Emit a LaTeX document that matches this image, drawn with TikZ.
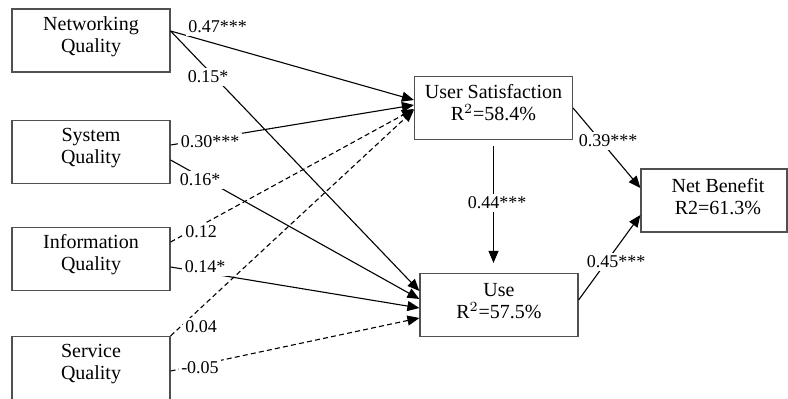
\documentclass[tikz,border=0pt]{standalone}
\usepackage{fontspec}
\setmainfont{Liberation Serif}
\usetikzlibrary{arrows.meta, positioning, calc}
\definecolor{BoxGray}{HTML}{505050}
\tikzset{
  var box/.style={rectangle, draw=BoxGray, line width=0.6pt,
                  minimum width=79pt, minimum height=31.5pt, inner sep=0pt},
  box text/.style={font=\fontsize{10}{11}\selectfont, align=center,
                   yshift=2pt},
  coef/.style={font=\fontsize{9}{10}\selectfont, fill=white, inner sep=1.2pt},
  path edge/.style={-{Triangle[length=6pt, width=5pt]}, line width=0.55pt},
  ns edge/.style={path edge, dash pattern=on 2.5pt off 1.6pt},
}

\begin{document}
\begin{tikzpicture}[x=0.5pt, y=-0.5pt]
  \useasboundingbox (0,0) rectangle (788,398);
  % constructs
  \node[var box, label={[box text]center:Networking\\Quality}] (nq) at (91,40.5) {};
  \node[var box, label={[box text]center:System\\Quality}] (sq) at (91,152) {};
  \node[var box, label={[box text]center:Information\\Quality}] (iq) at (91,259) {};
  \node[var box, label={[box text]center:Service\\Quality}] (svq) at (91,368) {};
  \node[var box, label={[box text, yshift=0.75pt]center:User Satisfaction\\R$^2$=58.4\%}] (us) at (493.5,108) {};
  \node[var box, label={[box text]center:Use\\R$^2$=57.5\%}] (use) at (499,305) {};
  \node[var box, minimum width=73pt,
        label={[box text, xshift=2pt]center:Net Benefit\\R2=61.3\%}] (nb) at (714,200.5) {};

  % paths
  \draw[path edge] ($(nq.east)+(0,-9.5)$) -- ($(us.west)+(0,-8)$);
  \draw[path edge] ($(nq.east)+(0,-9.5)$) -- ($(use.west)+(0,-14)$);
  \draw[path edge] ($(sq.east)+(0,-7)$) -- ($(us.west)+(0,-3)$);
  \draw[path edge] ($(sq.east)+(0,8)$) -- ($(use.west)+(0,-6)$);
  \draw[ns edge] ($(iq.east)+(0,-17)$) -- ($(us.west)+(0,1)$);
  \draw[path edge] ($(iq.east)+(0,8)$) -- ($(use.west)+(0,3)$);
  \draw[ns edge] (svq.north east) -- ($(us.west)+(0,2)$);
  \draw[ns edge] ($(svq.east)+(0,3)$) -- ($(use.west)+(0,13)$);
  \draw[path edge, shorten <=3pt, shorten >=5pt] (us.south) -- (us.south |- use.north);
  \draw[path edge] (us.east) -- ($(nb.west)+(0,-12.5)$);
  \draw[path edge] ($(use.east)+(0,-5)$) -- ($(nb.west)+(0,14.5)$);

  % coefficients
  \node[coef] (c1) at (217.5,27) {0.47***};
  \node[coef] (c2) at (208,77) {0.15*};
  \node[coef] (c3) at (210,142) {0.30***};
  \node[coef] (c4) at (200,180) {0.16*};
  \node[coef] (c5) at (201,232) {0.12};
  \node[coef] (c6) at (205,267) {0.14*};
  \node[coef] (c7) at (201,327) {0.04};
  \node[coef] (c8) at (200,368) {-0.05};
  \node[coef] (c9) at (497,203) {0.44***};
  \node[coef] (c10) at (608,141) {0.39***};
  \node[coef] (c11) at (616,262) {0.45***};
\end{tikzpicture}
\end{document}
